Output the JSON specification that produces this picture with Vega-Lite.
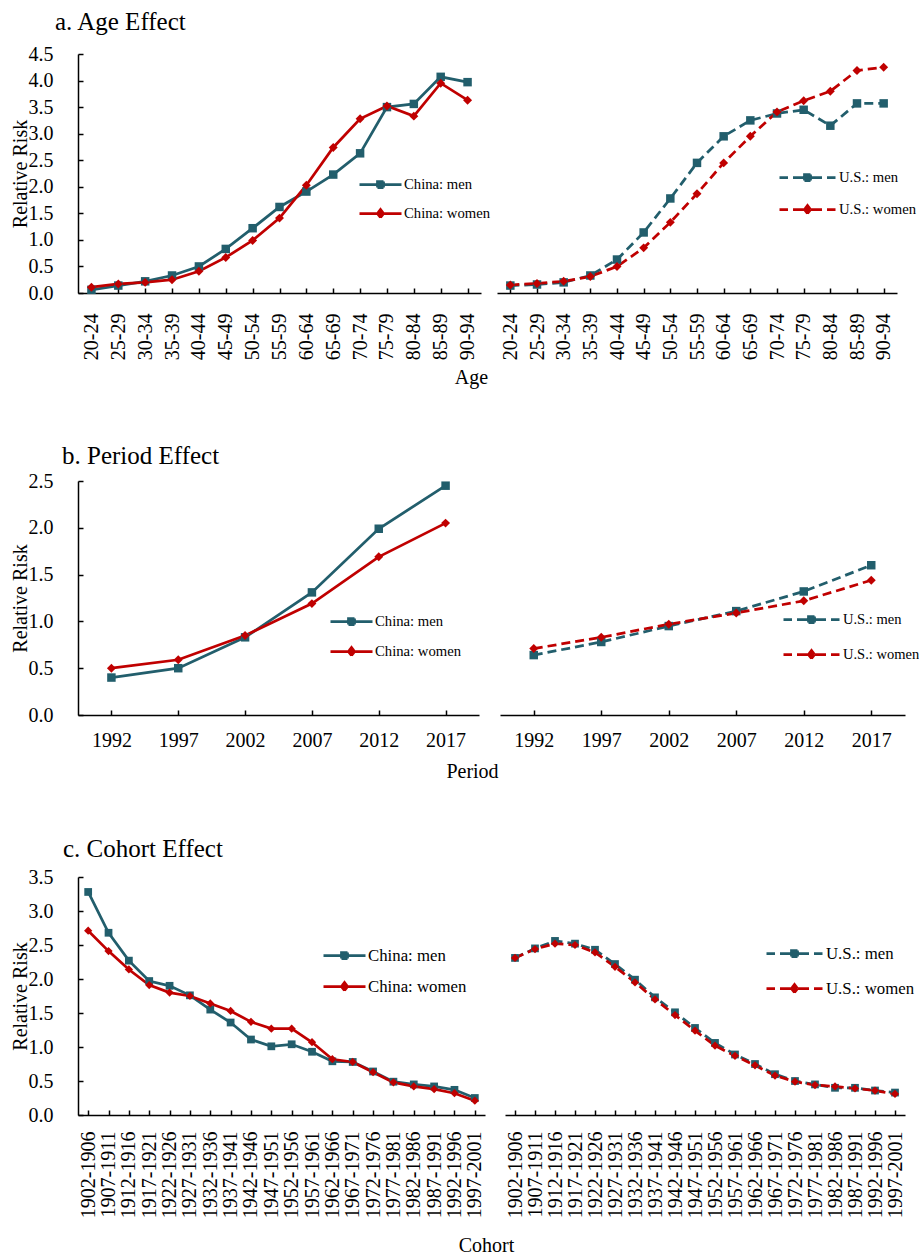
{
  "$schema": "https://vega.github.io/schema/vega-lite/v6.json",
  "padding": {"left": 10, "top": 10, "right": 0, "bottom": 0},
  "background": "white",
  "config": {
    "font": "Liberation Serif",
    "view": {"stroke": null},
    "title": {"font": "Liberation Serif", "fontSize": 25, "fontWeight": "normal", "anchor": "start", "frame": "group", "color": "black"},
    "axis": {
      "labelFont": "Liberation Serif", "titleFont": "Liberation Serif",
      "labelFontSize": 20, "titleFontSize": 20, "titleFontWeight": "normal",
      "labelColor": "black", "titleColor": "black",
      "domainColor": "black", "tickColor": "black", "domainWidth": 1.5, "tickWidth": 1.5,
      "grid": false, "tickSize": -5, "labelOverlap": false, "labelBound": false
    },
    "legend": {"labelFont": "Liberation Serif", "labelColor": "black", "padding": 0, "title": null}
  },
  "datasets": {
    "age": [
      {"series": "China: men", "group": "20-24", "rr": 0.06},
      {"series": "China: men", "group": "25-29", "rr": 0.14},
      {"series": "China: men", "group": "30-34", "rr": 0.22},
      {"series": "China: men", "group": "35-39", "rr": 0.33},
      {"series": "China: men", "group": "40-44", "rr": 0.50},
      {"series": "China: men", "group": "45-49", "rr": 0.83},
      {"series": "China: men", "group": "50-54", "rr": 1.22},
      {"series": "China: men", "group": "55-59", "rr": 1.62},
      {"series": "China: men", "group": "60-64", "rr": 1.91},
      {"series": "China: men", "group": "65-69", "rr": 2.23},
      {"series": "China: men", "group": "70-74", "rr": 2.63},
      {"series": "China: men", "group": "75-79", "rr": 3.50},
      {"series": "China: men", "group": "80-84", "rr": 3.56},
      {"series": "China: men", "group": "85-89", "rr": 4.07},
      {"series": "China: men", "group": "90-94", "rr": 3.97},
      {"series": "China: women", "group": "20-24", "rr": 0.11},
      {"series": "China: women", "group": "25-29", "rr": 0.17},
      {"series": "China: women", "group": "30-34", "rr": 0.20},
      {"series": "China: women", "group": "35-39", "rr": 0.25},
      {"series": "China: women", "group": "40-44", "rr": 0.41},
      {"series": "China: women", "group": "45-49", "rr": 0.67},
      {"series": "China: women", "group": "50-54", "rr": 0.99},
      {"series": "China: women", "group": "55-59", "rr": 1.41},
      {"series": "China: women", "group": "60-64", "rr": 2.03},
      {"series": "China: women", "group": "65-69", "rr": 2.74},
      {"series": "China: women", "group": "70-74", "rr": 3.28},
      {"series": "China: women", "group": "75-79", "rr": 3.52},
      {"series": "China: women", "group": "80-84", "rr": 3.33},
      {"series": "China: women", "group": "85-89", "rr": 3.95},
      {"series": "China: women", "group": "90-94", "rr": 3.63},
      {"series": "U.S.: men", "group": "20-24", "rr": 0.14},
      {"series": "U.S.: men", "group": "25-29", "rr": 0.16},
      {"series": "U.S.: men", "group": "30-34", "rr": 0.20},
      {"series": "U.S.: men", "group": "35-39", "rr": 0.33},
      {"series": "U.S.: men", "group": "40-44", "rr": 0.63},
      {"series": "U.S.: men", "group": "45-49", "rr": 1.14},
      {"series": "U.S.: men", "group": "50-54", "rr": 1.78},
      {"series": "U.S.: men", "group": "55-59", "rr": 2.45},
      {"series": "U.S.: men", "group": "60-64", "rr": 2.95},
      {"series": "U.S.: men", "group": "65-69", "rr": 3.25},
      {"series": "U.S.: men", "group": "70-74", "rr": 3.38},
      {"series": "U.S.: men", "group": "75-79", "rr": 3.45},
      {"series": "U.S.: men", "group": "80-84", "rr": 3.15},
      {"series": "U.S.: men", "group": "85-89", "rr": 3.57},
      {"series": "U.S.: men", "group": "90-94", "rr": 3.57},
      {"series": "U.S.: women", "group": "20-24", "rr": 0.15},
      {"series": "U.S.: women", "group": "25-29", "rr": 0.18},
      {"series": "U.S.: women", "group": "30-34", "rr": 0.22},
      {"series": "U.S.: women", "group": "35-39", "rr": 0.31},
      {"series": "U.S.: women", "group": "40-44", "rr": 0.50},
      {"series": "U.S.: women", "group": "45-49", "rr": 0.85},
      {"series": "U.S.: women", "group": "50-54", "rr": 1.33},
      {"series": "U.S.: women", "group": "55-59", "rr": 1.87},
      {"series": "U.S.: women", "group": "60-64", "rr": 2.45},
      {"series": "U.S.: women", "group": "65-69", "rr": 2.95},
      {"series": "U.S.: women", "group": "70-74", "rr": 3.41},
      {"series": "U.S.: women", "group": "75-79", "rr": 3.62},
      {"series": "U.S.: women", "group": "80-84", "rr": 3.80},
      {"series": "U.S.: women", "group": "85-89", "rr": 4.19},
      {"series": "U.S.: women", "group": "90-94", "rr": 4.25}
    ],
    "period": [
      {"series": "China: men", "group": "1992", "rr": 0.40},
      {"series": "China: men", "group": "1997", "rr": 0.50},
      {"series": "China: men", "group": "2002", "rr": 0.83},
      {"series": "China: men", "group": "2007", "rr": 1.31},
      {"series": "China: men", "group": "2012", "rr": 1.99},
      {"series": "China: men", "group": "2017", "rr": 2.45},
      {"series": "China: women", "group": "1992", "rr": 0.50},
      {"series": "China: women", "group": "1997", "rr": 0.59},
      {"series": "China: women", "group": "2002", "rr": 0.85},
      {"series": "China: women", "group": "2007", "rr": 1.19},
      {"series": "China: women", "group": "2012", "rr": 1.69},
      {"series": "China: women", "group": "2017", "rr": 2.05},
      {"series": "U.S.: men", "group": "1992", "rr": 0.64},
      {"series": "U.S.: men", "group": "1997", "rr": 0.78},
      {"series": "U.S.: men", "group": "2002", "rr": 0.95},
      {"series": "U.S.: men", "group": "2007", "rr": 1.11},
      {"series": "U.S.: men", "group": "2012", "rr": 1.32},
      {"series": "U.S.: men", "group": "2017", "rr": 1.60},
      {"series": "U.S.: women", "group": "1992", "rr": 0.71},
      {"series": "U.S.: women", "group": "1997", "rr": 0.83},
      {"series": "U.S.: women", "group": "2002", "rr": 0.97},
      {"series": "U.S.: women", "group": "2007", "rr": 1.09},
      {"series": "U.S.: women", "group": "2012", "rr": 1.22},
      {"series": "U.S.: women", "group": "2017", "rr": 1.44}
    ],
    "cohort": [
      {"series": "China: men", "group": "1902-1906", "rr": 3.28},
      {"series": "China: men", "group": "1907-1911", "rr": 2.68},
      {"series": "China: men", "group": "1912-1916", "rr": 2.27},
      {"series": "China: men", "group": "1917-1921", "rr": 1.97},
      {"series": "China: men", "group": "1922-1926", "rr": 1.90},
      {"series": "China: men", "group": "1927-1931", "rr": 1.76},
      {"series": "China: men", "group": "1932-1936", "rr": 1.55},
      {"series": "China: men", "group": "1937-1941", "rr": 1.36},
      {"series": "China: men", "group": "1942-1946", "rr": 1.11},
      {"series": "China: men", "group": "1947-1951", "rr": 1.01},
      {"series": "China: men", "group": "1952-1956", "rr": 1.04},
      {"series": "China: men", "group": "1957-1961", "rr": 0.93},
      {"series": "China: men", "group": "1962-1966", "rr": 0.79},
      {"series": "China: men", "group": "1967-1971", "rr": 0.78},
      {"series": "China: men", "group": "1972-1976", "rr": 0.64},
      {"series": "China: men", "group": "1977-1981", "rr": 0.49},
      {"series": "China: men", "group": "1982-1986", "rr": 0.45},
      {"series": "China: men", "group": "1987-1991", "rr": 0.42},
      {"series": "China: men", "group": "1992-1996", "rr": 0.37},
      {"series": "China: men", "group": "1997-2001", "rr": 0.25},
      {"series": "China: women", "group": "1902-1906", "rr": 2.71},
      {"series": "China: women", "group": "1907-1911", "rr": 2.41},
      {"series": "China: women", "group": "1912-1916", "rr": 2.14},
      {"series": "China: women", "group": "1917-1921", "rr": 1.91},
      {"series": "China: women", "group": "1922-1926", "rr": 1.80},
      {"series": "China: women", "group": "1927-1931", "rr": 1.75},
      {"series": "China: women", "group": "1932-1936", "rr": 1.64},
      {"series": "China: women", "group": "1937-1941", "rr": 1.53},
      {"series": "China: women", "group": "1942-1946", "rr": 1.37},
      {"series": "China: women", "group": "1947-1951", "rr": 1.27},
      {"series": "China: women", "group": "1952-1956", "rr": 1.27},
      {"series": "China: women", "group": "1957-1961", "rr": 1.07},
      {"series": "China: women", "group": "1962-1966", "rr": 0.82},
      {"series": "China: women", "group": "1967-1971", "rr": 0.78},
      {"series": "China: women", "group": "1972-1976", "rr": 0.63},
      {"series": "China: women", "group": "1977-1981", "rr": 0.48},
      {"series": "China: women", "group": "1982-1986", "rr": 0.42},
      {"series": "China: women", "group": "1987-1991", "rr": 0.38},
      {"series": "China: women", "group": "1992-1996", "rr": 0.32},
      {"series": "China: women", "group": "1997-2001", "rr": 0.21},
      {"series": "U.S.: men", "group": "1902-1906", "rr": 2.31},
      {"series": "U.S.: men", "group": "1907-1911", "rr": 2.45},
      {"series": "U.S.: men", "group": "1912-1916", "rr": 2.56},
      {"series": "U.S.: men", "group": "1917-1921", "rr": 2.52},
      {"series": "U.S.: men", "group": "1922-1926", "rr": 2.43},
      {"series": "U.S.: men", "group": "1927-1931", "rr": 2.22},
      {"series": "U.S.: men", "group": "1932-1936", "rr": 1.99},
      {"series": "U.S.: men", "group": "1937-1941", "rr": 1.73},
      {"series": "U.S.: men", "group": "1942-1946", "rr": 1.51},
      {"series": "U.S.: men", "group": "1947-1951", "rr": 1.28},
      {"series": "U.S.: men", "group": "1952-1956", "rr": 1.06},
      {"series": "U.S.: men", "group": "1957-1961", "rr": 0.89},
      {"series": "U.S.: men", "group": "1962-1966", "rr": 0.75},
      {"series": "U.S.: men", "group": "1967-1971", "rr": 0.60},
      {"series": "U.S.: men", "group": "1972-1976", "rr": 0.50},
      {"series": "U.S.: men", "group": "1977-1981", "rr": 0.45},
      {"series": "U.S.: men", "group": "1982-1986", "rr": 0.40},
      {"series": "U.S.: men", "group": "1987-1991", "rr": 0.40},
      {"series": "U.S.: men", "group": "1992-1996", "rr": 0.36},
      {"series": "U.S.: men", "group": "1997-2001", "rr": 0.33},
      {"series": "U.S.: women", "group": "1902-1906", "rr": 2.31},
      {"series": "U.S.: women", "group": "1907-1911", "rr": 2.44},
      {"series": "U.S.: women", "group": "1912-1916", "rr": 2.52},
      {"series": "U.S.: women", "group": "1917-1921", "rr": 2.50},
      {"series": "U.S.: women", "group": "1922-1926", "rr": 2.39},
      {"series": "U.S.: women", "group": "1927-1931", "rr": 2.18},
      {"series": "U.S.: women", "group": "1932-1936", "rr": 1.95},
      {"series": "U.S.: women", "group": "1937-1941", "rr": 1.70},
      {"series": "U.S.: women", "group": "1942-1946", "rr": 1.47},
      {"series": "U.S.: women", "group": "1947-1951", "rr": 1.24},
      {"series": "U.S.: women", "group": "1952-1956", "rr": 1.02},
      {"series": "U.S.: women", "group": "1957-1961", "rr": 0.87},
      {"series": "U.S.: women", "group": "1962-1966", "rr": 0.73},
      {"series": "U.S.: women", "group": "1967-1971", "rr": 0.58},
      {"series": "U.S.: women", "group": "1972-1976", "rr": 0.49},
      {"series": "U.S.: women", "group": "1977-1981", "rr": 0.44},
      {"series": "U.S.: women", "group": "1982-1986", "rr": 0.42},
      {"series": "U.S.: women", "group": "1987-1991", "rr": 0.39},
      {"series": "U.S.: women", "group": "1992-1996", "rr": 0.36},
      {"series": "U.S.: women", "group": "1997-2001", "rr": 0.31}
    ]
  },
  "spacing": 56,
  "resolve": {"scale": {"color": "independent", "x": "independent", "y": "independent"}, "legend": {"color": "independent"}},
  "vconcat": [
    {
      "bounds": "flush",
      "spacing": 16,
      "resolve": {"scale": {"color": "independent", "x": "independent", "y": "independent"}, "legend": {"color": "independent"}},
      "hconcat": [
        {
          "width": 403, "height": 239,
          "title": {"text": "a. Age Effect", "dx": -23, "offset": 9},
          "data": {"name": "age"},
          "transform": [{"filter": "indexof(datum.series, 'China') >= 0"}],
          "encoding": {
            "x": {"field": "group", "type": "ordinal", "axis": {"title": "Age", "labelAngle": -90, "labelPadding": 25, "titlePadding": 8, "titleX": 393, "titleAlign": "center"}},
            "y": {"field": "rr", "type": "quantitative", "scale": {"domain": [0, 4.5], "nice": false}, "axis": {"title": "Relative Risk", "values": [0, 0.5, 1, 1.5, 2, 2.5, 3, 3.5, 4, 4.5], "format": ".1f", "labelPadding": 30, "titlePadding": -2}}
          },
          "layer": [
            {
              "mark": {"type": "line", "strokeWidth": 2.75},
              "encoding": {
                "color": {"field": "series", "type": "nominal", "scale": {"domain": ["China: men", "China: women"], "range": ["#225E6C", "#C00000"]},
                  "legend": {"orient": "none", "legendX": 291, "legendY": 119, "symbolSize": 400, "symbolType": "M-2.1,0H2.1M-0.3,-0.3H0.3V0.3H-0.3Z", "symbolStrokeWidth": 2.75, "labelFontSize": 14.7, "labelOffset": 12, "rowPadding": 9,
                    "encoding": {"symbols": {
                      "shape": {"value": {"expr": "indexof(datum.value, 'women') >= 0 ? 'M-2.1,0H2.1M0,-0.4L0.3,0L0,0.4L-0.3,0Z' : 'M-2.1,0H2.1M-0.3,-0.3H0.3V0.3H-0.3Z'"}},
                      "fill": {"value": {"expr": "indexof(datum.value, 'women') >= 0 ? '#C00000' : '#225E6C'"}},
                      "stroke": {"value": {"expr": "indexof(datum.value, 'women') >= 0 ? '#C00000' : '#225E6C'"}},
                      "strokeDash": {"value": [1, 0]},
                      "opacity": {"value": 1}
                    }}}
                }
              }
            },
            {
              "transform": [{"filter": "indexof(datum.series, 'women') < 0"}],
              "mark": {"type": "point", "filled": true, "opacity": 1, "size": 72, "shape": "square", "color": "#225E6C"}
            },
            {
              "transform": [{"filter": "indexof(datum.series, 'women') >= 0"}],
              "mark": {"type": "point", "filled": true, "opacity": 1, "size": 80, "shape": "diamond", "color": "#C00000"}
            }
          ]
        },
        {
          "width": 400, "height": 239,
          "data": {"name": "age"},
          "transform": [{"filter": "indexof(datum.series, 'U.S.') >= 0"}],
          "encoding": {
            "x": {"field": "group", "type": "ordinal", "axis": {"title": null, "labelAngle": -90, "labelPadding": 25}},
            "y": {"field": "rr", "type": "quantitative", "scale": {"domain": [0, 4.5], "nice": false}, "axis": null}
          },
          "layer": [
            {
              "mark": {"type": "line", "strokeWidth": 2.75, "strokeDash": [9, 5]},
              "encoding": {
                "color": {"field": "series", "type": "nominal", "scale": {"domain": ["U.S.: men", "U.S.: women"], "range": ["#225E6C", "#C00000"]},
                  "legend": {"orient": "none", "legendX": 299, "legendY": 112, "symbolSize": 400, "symbolType": "M-2.8,0H-1.95M-1.45,0H-0.3M0.3,0H1.45M1.95,0H2.8M-0.3,-0.3H0.3V0.3H-0.3Z", "symbolStrokeWidth": 2.75, "labelFontSize": 14.7, "labelOffset": 20, "rowPadding": 12,
                    "encoding": {"symbols": {
                      "shape": {"value": {"expr": "indexof(datum.value, 'women') >= 0 ? 'M-2.8,0H-1.95M-1.45,0H-0.3M0.3,0H1.45M1.95,0H2.8M0,-0.4L0.3,0L0,0.4L-0.3,0Z' : 'M-2.8,0H-1.95M-1.45,0H-0.3M0.3,0H1.45M1.95,0H2.8M-0.3,-0.3H0.3V0.3H-0.3Z'"}},
                      "fill": {"value": {"expr": "indexof(datum.value, 'women') >= 0 ? '#C00000' : '#225E6C'"}},
                      "stroke": {"value": {"expr": "indexof(datum.value, 'women') >= 0 ? '#C00000' : '#225E6C'"}},
                      "strokeDash": {"value": [1, 0]},
                      "opacity": {"value": 1}
                    }}}
                }
              }
            },
            {
              "transform": [{"filter": "indexof(datum.series, 'women') < 0"}],
              "mark": {"type": "point", "filled": true, "opacity": 1, "size": 72, "shape": "square", "color": "#225E6C"}
            },
            {
              "transform": [{"filter": "indexof(datum.series, 'women') >= 0"}],
              "mark": {"type": "point", "filled": true, "opacity": 1, "size": 80, "shape": "diamond", "color": "#C00000"}
            }
          ]
        }
      ]
    },
    {
      "bounds": "flush",
      "spacing": 21,
      "resolve": {"scale": {"color": "independent", "x": "independent", "y": "independent"}, "legend": {"color": "independent"}},
      "hconcat": [
        {
          "width": 401, "height": 234,
          "title": {"text": "b. Period Effect", "dx": -16, "offset": 2},
          "data": {"name": "period"},
          "transform": [{"filter": "indexof(datum.series, 'China') >= 0"}],
          "encoding": {
            "x": {"field": "group", "type": "ordinal", "axis": {"title": "Period", "labelAngle": 0, "labelPadding": 20, "titlePadding": 11, "titleX": 394, "titleAlign": "center"}},
            "y": {"field": "rr", "type": "quantitative", "scale": {"domain": [0, 2.5], "nice": false}, "axis": {"title": "Relative Risk", "values": [0, 0.5, 1, 1.5, 2, 2.5], "format": ".1f", "labelPadding": 30, "titlePadding": -2}}
          },
          "layer": [
            {
              "mark": {"type": "line", "strokeWidth": 2.75},
              "encoding": {
                "color": {"field": "series", "type": "nominal", "scale": {"domain": ["China: men", "China: women"], "range": ["#225E6C", "#C00000"]},
                  "legend": {"orient": "none", "legendX": 262, "legendY": 129, "symbolSize": 400, "symbolType": "M-2.1,0H2.1M-0.3,-0.3H0.3V0.3H-0.3Z", "symbolStrokeWidth": 2.75, "labelFontSize": 14.7, "labelOffset": 12, "rowPadding": 10,
                    "encoding": {"symbols": {
                      "shape": {"value": {"expr": "indexof(datum.value, 'women') >= 0 ? 'M-2.1,0H2.1M0,-0.4L0.3,0L0,0.4L-0.3,0Z' : 'M-2.1,0H2.1M-0.3,-0.3H0.3V0.3H-0.3Z'"}},
                      "fill": {"value": {"expr": "indexof(datum.value, 'women') >= 0 ? '#C00000' : '#225E6C'"}},
                      "stroke": {"value": {"expr": "indexof(datum.value, 'women') >= 0 ? '#C00000' : '#225E6C'"}},
                      "strokeDash": {"value": [1, 0]},
                      "opacity": {"value": 1}
                    }}}
                }
              }
            },
            {
              "transform": [{"filter": "indexof(datum.series, 'women') < 0"}],
              "mark": {"type": "point", "filled": true, "opacity": 1, "size": 72, "shape": "square", "color": "#225E6C"}
            },
            {
              "transform": [{"filter": "indexof(datum.series, 'women') >= 0"}],
              "mark": {"type": "point", "filled": true, "opacity": 1, "size": 80, "shape": "diamond", "color": "#C00000"}
            }
          ]
        },
        {
          "width": 405, "height": 234,
          "data": {"name": "period"},
          "transform": [{"filter": "indexof(datum.series, 'U.S.') >= 0"}],
          "encoding": {
            "x": {"field": "group", "type": "ordinal", "axis": {"title": null, "labelAngle": 0, "labelPadding": 20}},
            "y": {"field": "rr", "type": "quantitative", "scale": {"domain": [0, 2.5], "nice": false}, "axis": null}
          },
          "layer": [
            {
              "mark": {"type": "line", "strokeWidth": 2.75, "strokeDash": [9, 5]},
              "encoding": {
                "color": {"field": "series", "type": "nominal", "scale": {"domain": ["U.S.: men", "U.S.: women"], "range": ["#225E6C", "#C00000"]},
                  "legend": {"orient": "none", "legendX": 300, "legendY": 127, "symbolSize": 400, "symbolType": "M-2.8,0H-1.95M-1.45,0H-0.3M0.3,0H1.45M1.95,0H2.8M-0.3,-0.3H0.3V0.3H-0.3Z", "symbolStrokeWidth": 2.75, "labelFontSize": 14.5, "labelOffset": 20, "rowPadding": 15,
                    "encoding": {"symbols": {
                      "shape": {"value": {"expr": "indexof(datum.value, 'women') >= 0 ? 'M-2.8,0H-1.95M-1.45,0H-0.3M0.3,0H1.45M1.95,0H2.8M0,-0.4L0.3,0L0,0.4L-0.3,0Z' : 'M-2.8,0H-1.95M-1.45,0H-0.3M0.3,0H1.45M1.95,0H2.8M-0.3,-0.3H0.3V0.3H-0.3Z'"}},
                      "fill": {"value": {"expr": "indexof(datum.value, 'women') >= 0 ? '#C00000' : '#225E6C'"}},
                      "stroke": {"value": {"expr": "indexof(datum.value, 'women') >= 0 ? '#C00000' : '#225E6C'"}},
                      "strokeDash": {"value": [1, 0]},
                      "opacity": {"value": 1}
                    }}}
                }
              }
            },
            {
              "transform": [{"filter": "indexof(datum.series, 'women') < 0"}],
              "mark": {"type": "point", "filled": true, "opacity": 1, "size": 72, "shape": "square", "color": "#225E6C"}
            },
            {
              "transform": [{"filter": "indexof(datum.series, 'women') >= 0"}],
              "mark": {"type": "point", "filled": true, "opacity": 1, "size": 80, "shape": "diamond", "color": "#C00000"}
            }
          ]
        }
      ]
    },
    {
      "bounds": "flush",
      "spacing": 20,
      "resolve": {"scale": {"color": "independent", "x": "independent", "y": "independent"}, "legend": {"color": "independent"}},
      "hconcat": [
        {
          "width": 407, "height": 238,
          "title": {"text": "c. Cohort Effect", "dx": -15, "offset": 5},
          "data": {"name": "cohort"},
          "transform": [{"filter": "indexof(datum.series, 'China') >= 0"}],
          "encoding": {
            "x": {"field": "group", "type": "ordinal", "axis": {"title": "Cohort", "labelAngle": -90, "labelPadding": 21, "titlePadding": 18, "titleX": 408, "titleAlign": "center"}},
            "y": {"field": "rr", "type": "quantitative", "scale": {"domain": [0, 3.5], "nice": false}, "axis": {"title": "Relative Risk", "values": [0, 0.5, 1, 1.5, 2, 2.5, 3, 3.5], "format": ".1f", "labelPadding": 30, "titlePadding": -2}}
          },
          "layer": [
            {
              "mark": {"type": "line", "strokeWidth": 2.75},
              "encoding": {
                "color": {"field": "series", "type": "nominal", "scale": {"domain": ["China: men", "China: women"], "range": ["#225E6C", "#C00000"]},
                  "legend": {"orient": "none", "legendX": 255, "legendY": 67, "symbolSize": 400, "symbolType": "M-2.1,0H2.1M-0.3,-0.3H0.3V0.3H-0.3Z", "symbolStrokeWidth": 2.75, "labelFontSize": 16.8, "labelOffset": 12, "rowPadding": 10,
                    "encoding": {"symbols": {
                      "shape": {"value": {"expr": "indexof(datum.value, 'women') >= 0 ? 'M-2.1,0H2.1M0,-0.4L0.3,0L0,0.4L-0.3,0Z' : 'M-2.1,0H2.1M-0.3,-0.3H0.3V0.3H-0.3Z'"}},
                      "fill": {"value": {"expr": "indexof(datum.value, 'women') >= 0 ? '#C00000' : '#225E6C'"}},
                      "stroke": {"value": {"expr": "indexof(datum.value, 'women') >= 0 ? '#C00000' : '#225E6C'"}},
                      "strokeDash": {"value": [1, 0]},
                      "opacity": {"value": 1}
                    }}}
                }
              }
            },
            {
              "transform": [{"filter": "indexof(datum.series, 'women') < 0"}],
              "mark": {"type": "point", "filled": true, "opacity": 1, "size": 60, "shape": "square", "color": "#225E6C"}
            },
            {
              "transform": [{"filter": "indexof(datum.series, 'women') >= 0"}],
              "mark": {"type": "point", "filled": true, "opacity": 1, "size": 68, "shape": "diamond", "color": "#C00000"}
            }
          ]
        },
        {
          "width": 400, "height": 238,
          "data": {"name": "cohort"},
          "transform": [{"filter": "indexof(datum.series, 'U.S.') >= 0"}],
          "encoding": {
            "x": {"field": "group", "type": "ordinal", "axis": {"title": null, "labelAngle": -90, "labelPadding": 21}},
            "y": {"field": "rr", "type": "quantitative", "scale": {"domain": [0, 3.5], "nice": false}, "axis": null}
          },
          "layer": [
            {
              "mark": {"type": "line", "strokeWidth": 2.75, "strokeDash": [9, 5]},
              "encoding": {
                "color": {"field": "series", "type": "nominal", "scale": {"domain": ["U.S.: men", "U.S.: women"], "range": ["#225E6C", "#C00000"]},
                  "legend": {"orient": "none", "legendX": 278, "legendY": 65, "symbolSize": 400, "symbolType": "M-2.8,0H-1.95M-1.45,0H-0.3M0.3,0H1.45M1.95,0H2.8M-0.3,-0.3H0.3V0.3H-0.3Z", "symbolStrokeWidth": 2.75, "labelFontSize": 16.8, "labelOffset": 20, "rowPadding": 14,
                    "encoding": {"symbols": {
                      "shape": {"value": {"expr": "indexof(datum.value, 'women') >= 0 ? 'M-2.8,0H-1.95M-1.45,0H-0.3M0.3,0H1.45M1.95,0H2.8M0,-0.4L0.3,0L0,0.4L-0.3,0Z' : 'M-2.8,0H-1.95M-1.45,0H-0.3M0.3,0H1.45M1.95,0H2.8M-0.3,-0.3H0.3V0.3H-0.3Z'"}},
                      "fill": {"value": {"expr": "indexof(datum.value, 'women') >= 0 ? '#C00000' : '#225E6C'"}},
                      "stroke": {"value": {"expr": "indexof(datum.value, 'women') >= 0 ? '#C00000' : '#225E6C'"}},
                      "strokeDash": {"value": [1, 0]},
                      "opacity": {"value": 1}
                    }}}
                }
              }
            },
            {
              "transform": [{"filter": "indexof(datum.series, 'women') < 0"}],
              "mark": {"type": "point", "filled": true, "opacity": 1, "size": 60, "shape": "square", "color": "#225E6C"}
            },
            {
              "transform": [{"filter": "indexof(datum.series, 'women') >= 0"}],
              "mark": {"type": "point", "filled": true, "opacity": 1, "size": 68, "shape": "diamond", "color": "#C00000"}
            }
          ]
        }
      ]
    }
  ]
}
